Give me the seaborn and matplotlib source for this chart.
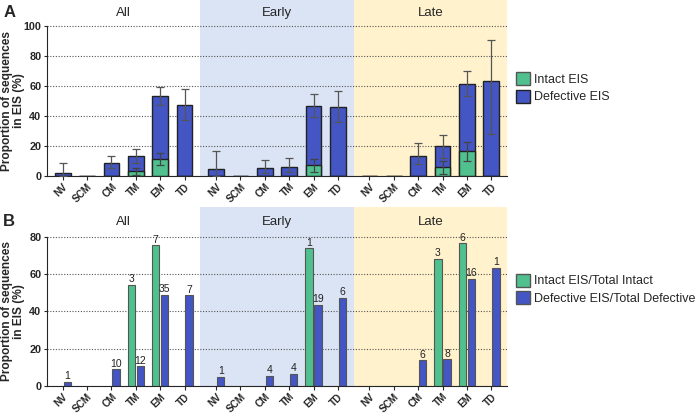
import numpy as np
import pandas as pd
import matplotlib.pyplot as plt
from matplotlib.patches import Patch
import seaborn as sns

groups = ["All", "Early", "Late"]
cats = ["NV", "SCM", "CM", "TM", "EM", "TD"]

# panel A: mean proportion (%) with error bars
a_total = [2.2, 0, 8.9, 13.3, 52.9, 47.1,
           4.4, 0, 5.1, 6.0, 46.4, 45.8,
           0, 0, 13.3, 19.8, 61.3, 63.3]
a_total_lo = [2.2, 0, 3.8, 4.4, 5.8, 10.0,
              4.4, 0, 3.1, 3.6, 7.3, 10.2,
              0, 0, 5.5, 8.0, 8.4, 35.5]
a_total_hi = [6.3, 0, 4.4, 4.5, 6.2, 10.7,
              12.5, 0, 5.3, 5.8, 7.8, 10.6,
              0, 0, 8.5, 7.3, 8.5, 27.4]
a_intact = [0, 0, 0, 3.1, 11.1, 0,
            0, 0, 0, 0, 7.1, 0,
            0, 0, 0, 5.8, 16.4, 0]
a_intact_err = [0, 0, 0, 2.5, 4.0, 0,
                0, 0, 0, 0, 4.3, 0,
                0, 0, 0, 4.4, 6.4, 0]

# panel B: proportions with counts on top
nan = np.nan
b_intact = [nan, nan, nan, 54.2, 75.4, nan,
            nan, nan, nan, nan, 73.8, nan,
            nan, nan, nan, 68.3, 76.5, nan]
b_defect = [2.3, nan, 9.0, 10.6, 49.0, 48.7,
            5.0, nan, 5.3, 6.5, 43.5, 47.3,
            nan, nan, 13.8, 14.3, 57.3, 63.5]
b_n_intact = ["", "", "", "3", "7", "",
              "", "", "", "", "1", "",
              "", "", "", "3", "6", ""]
b_n_defect = ["1", "", "10", "12", "35", "7",
              "1", "", "4", "4", "19", "6",
              "", "", "6", "8", "16", "1"]

green = "#50c18e"
blue = "#4356c4"
shade = {"Early": "#dbe4f4", "Late": "#fff2cc"}

# x layout: 6 categories per group, groups 6.3 units wide
gw = 6.3
pos = [g * gw + 0.65 + i for g in range(len(groups)) for i in range(len(cats))]
labels = cats * len(groups)

sns.set_style("ticks")
plt.rcParams["font.family"] = ["Liberation Sans", "DejaVu Sans"]

fig = plt.figure(figsize=(6.96, 4.15), dpi=100)
axA = fig.add_axes([47 / 696, 1 - 176 / 415, 460 / 696, 176 / 415])
axB = fig.add_axes([47 / 696, 1 - 386 / 415, 460 / 696, 179 / 415])


def frame(ax, top, ymax, title_y, letter):
    for g, name in enumerate(groups):
        if name in shade:
            ax.axvspan(g * gw, (g + 1) * gw, color=shade[name], zorder=0, lw=0)
        ax.text(g * gw + gw / 2, title_y, name, ha="center", va="center", fontsize=9.5)
    ax.set_xlim(0, gw * len(groups))
    ax.set_ylim(0, top)
    ax.spines["left"].set_bounds(0, ymax)
    ax.spines["top"].set_visible(False)
    ax.spines["right"].set_visible(False)
    ax.set_axisbelow(True)
    ax.text(-0.082, title_y, letter, transform=ax.get_yaxis_transform(),
            fontsize=12, fontweight="bold", ha="center", va="center")


def axes_text(ax, top, ymax):
    ax.set_yticks(np.arange(0, ymax + 1, 20))
    ax.yaxis.grid(True, linestyle=(0, (1, 1.5)), color="#555555", lw=0.8)
    ax.set_xticks(pos)
    ax.set_xticklabels(labels, rotation=45, ha="right", rotation_mode="anchor",
                       fontsize=7.2, fontweight="bold")
    ax.tick_params(axis="x", length=3, pad=1)
    ax.tick_params(axis="y", length=2.5, pad=1.5, labelsize=7.8)
    for t in ax.get_yticklabels():
        t.set_fontweight("bold")
    ax.set_xlabel("")
    ax.set_ylabel("Proportion of sequences\nin EIS (%)", fontsize=8.6,
                  fontweight="bold", linespacing=1.0)
    ax.yaxis.set_label_coords(-0.047, (ymax / 2) / top)


# ---- panel A
frame(axA, 117, 100, 108.5, "A")
dfA = pd.DataFrame({"pos": pos, "total": a_total, "intact": a_intact})
sns.barplot(data=dfA, x="pos", y="total", native_scale=True, orient="x", width=0.65,
            color=blue, saturation=1, edgecolor="#222222", linewidth=1, ax=axA)
sns.barplot(data=dfA, x="pos", y="intact", native_scale=True, orient="x", width=0.65,
            color=green, saturation=1, edgecolor="#222222", linewidth=1, ax=axA)
p = np.array(pos)
t = np.array(a_total)
m = t > 0
axA.errorbar(p[m], t[m], yerr=[np.array(a_total_lo)[m], np.array(a_total_hi)[m]],
             fmt="none", ecolor="#555555", elinewidth=0.9, capsize=3, capthick=0.9, zorder=5)
iv = np.array(a_intact)
mi = iv > 0
axA.errorbar(p[mi], iv[mi], yerr=np.array(a_intact_err)[mi],
             fmt="none", ecolor="#444444", elinewidth=0.9, capsize=3, capthick=0.9, zorder=5)
axes_text(axA, 117, 100)
axA.legend(handles=[Patch(facecolor=green, edgecolor="#555555", label="Intact EIS"),
                    Patch(facecolor=blue, edgecolor="#222222", label="Defective EIS")],
           loc="center left", bbox_to_anchor=(1.0, 0.5), borderaxespad=0.3,
           frameon=False, fontsize=9,
           handlelength=1.1, handleheight=1.2, handletextpad=0.4, labelspacing=0.3)

# ---- panel B
frame(axB, 96, 80, 88, "B")
dfB = pd.DataFrame({
    "pos": pos * 2,
    "value": b_intact + b_defect,
    "n": b_n_intact + b_n_defect,
    "kind": ["Intact EIS/Total Intact"] * len(pos) + ["Defective EIS/Total Defective"] * len(pos),
}).dropna(subset=["value"])
sns.barplot(data=dfB, x="pos", y="value", hue="kind", native_scale=True, orient="x",
            width=0.76, gap=0.2, palette=[green, blue], saturation=1,
            edgecolor="#555555", linewidth=0.8, ax=axB)
for cont, kind in zip(axB.containers, dfB["kind"].unique()):
    sub = dfB[dfB["kind"] == kind].sort_values("pos")
    axB.bar_label(cont, labels=list(sub["n"]), padding=0.5, fontsize=7.5, color="#222222")
axes_text(axB, 96, 80)
axB.legend(handles=[Patch(facecolor=green, edgecolor="#555555", label="Intact EIS/Total Intact"),
                    Patch(facecolor=blue, edgecolor="#555555", label="Defective EIS/Total Defective")],
           loc="center left", bbox_to_anchor=(1.0, 0.54), borderaxespad=0.3,
           frameon=False, fontsize=9,
           handlelength=1.1, handleheight=1.2, handletextpad=0.4, labelspacing=0.3)

fig.savefig("out.png", dpi=100)
